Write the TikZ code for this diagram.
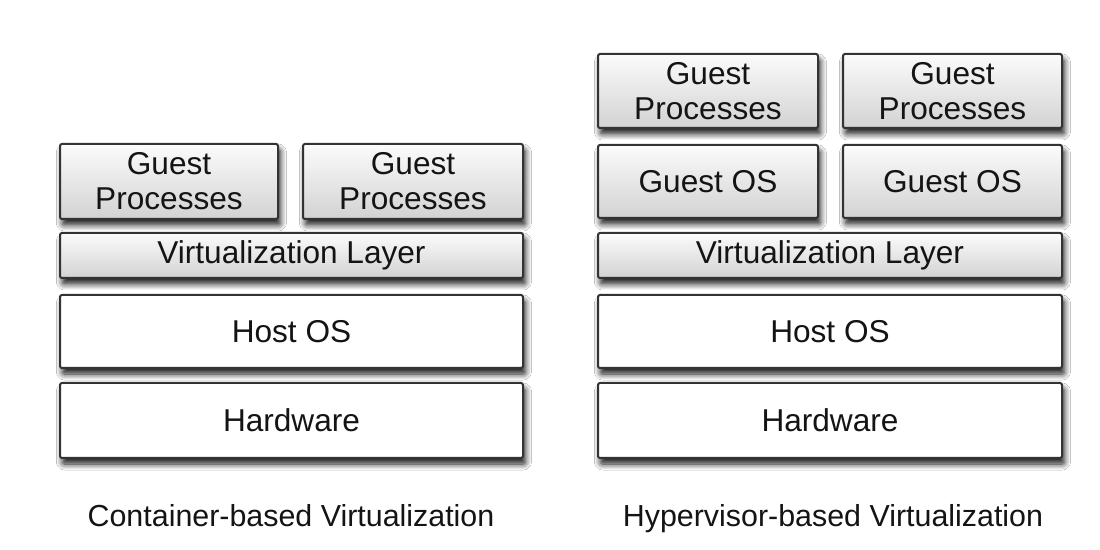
\documentclass[tikz,border=0pt]{standalone}
\usepackage{fontspec}
\setmainfont{Liberation Sans}
\usetikzlibrary{shadows.blur}
\definecolor{txt}{HTML}{141414}
\definecolor{edge}{HTML}{333333}
\tikzset{
  layer/.style={draw=edge, line width=1pt, rounded corners=1pt, align=center,
    inner sep=0pt, text=txt, font=\fontsize{15.8}{17.5}\selectfont,
    blur shadow={shadow xshift=1.2pt, shadow yshift=-3pt, shadow blur radius=3pt, shadow opacity=90, shadow blur steps=8}},
  graybox/.style={layer, top color=gray!3, bottom color=gray!35},
  whitebox/.style={layer, fill=white},
  caption/.style={text=txt, font=\fontsize{15.2}{17}\selectfont, inner sep=0pt, anchor=base}
}
\begin{document}
\begin{tikzpicture}[x=0.5pt,y=-0.5pt]
\useasboundingbox (0,0) rectangle (1100,550);
\fill[white] (0,0) rectangle (1100,550);
% Container-based
\node[whitebox, minimum width=231.5pt, minimum height=37.5pt] (chw) at (291.5,420.5) {Hardware};
\node[whitebox, minimum width=231.5pt, minimum height=36.5pt] (chost) at (291.5,331.5) {Host OS};
\node[graybox, minimum width=231.5pt, minimum height=22.5pt] (cvl) at (291.5,255.5) {Virtualization Layer};
\node[graybox, minimum width=109pt, minimum height=37.5pt] (cgp1) at (169,181.5) {Guest\\Processes};
\node[graybox, minimum width=110pt, minimum height=37.5pt] (cgp2) at (413,181.5) {Guest\\Processes};
\node[caption] (ccap) at (291,527) {Container-based Virtualization};
% Hypervisor-based
\node[whitebox, minimum width=232pt, minimum height=37.5pt] (hhw) at (830,420.5) {Hardware};
\node[whitebox, minimum width=232pt, minimum height=36.5pt] (hhost) at (830,331.5) {Host OS};
\node[graybox, minimum width=232pt, minimum height=22.5pt] (hvl) at (830,255.5) {Virtualization Layer};
\node[graybox, minimum width=110pt, minimum height=36.5pt] (hos1) at (708,181.5) {Guest OS};
\node[graybox, minimum width=109.5pt, minimum height=36.5pt] (hos2) at (952.5,181.5) {Guest OS};
\node[graybox, minimum width=110pt, minimum height=37pt] (hgp1) at (708,91) {Guest\\Processes};
\node[graybox, minimum width=109.5pt, minimum height=37pt] (hgp2) at (952.5,91) {Guest\\Processes};
\node[caption] (hcap) at (833,527) {Hypervisor-based Virtualization};
\end{tikzpicture}
\end{document}
